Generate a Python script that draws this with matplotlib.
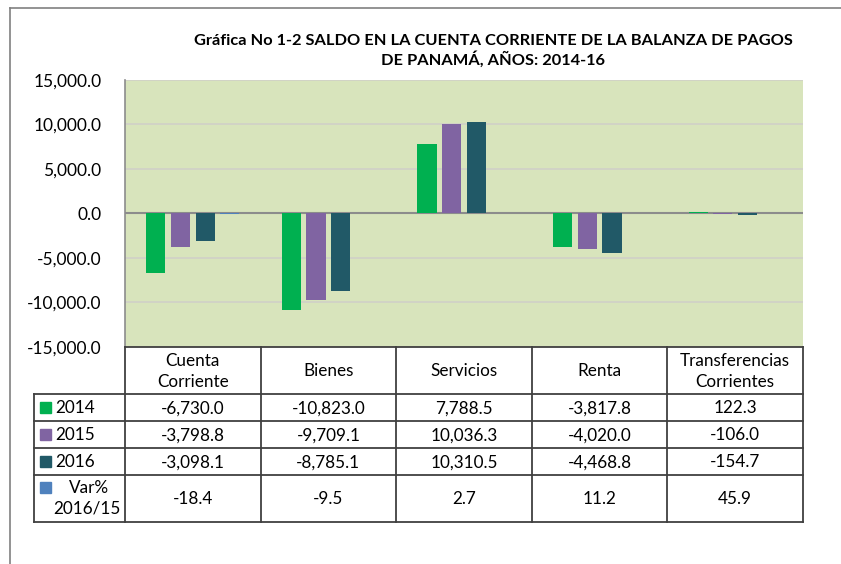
import numpy as np
import matplotlib.pyplot as plt
from matplotlib.lines import Line2D
from matplotlib.patches import Rectangle

# Datos del cuadro
categorias = ["Cuenta\nCorriente", "Bienes", "Servicios", "Renta", "Transferencias\nCorrientes"]
series = ["2014", "2015", "2016", "Var%\n2016/15"]
v2014 = [-6730.0, -10823.0, 7788.5, -3817.8, 122.3]
v2015 = [-3798.8, -9709.1, 10036.3, -4020.0, -106.0]
v2016 = [-3098.1, -8785.1, 10310.5, -4468.8, -154.7]
var_pct = [-18.4, -9.5, 2.7, 11.2, 45.9]
colores = ["#00B050", "#8064A2", "#215967", "#4F81BD"]

valores = [v2014, v2015, v2016, var_pct]
textos = [
    ["-6,730.0", "-10,823.0", "7,788.5", "-3,817.8", "122.3"],
    ["-3,798.8", "-9,709.1", "10,036.3", "-4,020.0", "-106.0"],
    ["-3,098.1", "-8,785.1", "10,310.5", "-4,468.8", "-154.7"],
    ["-18.4", "-9.5", "2.7", "11.2", "45.9"],
]

plt.rcParams['font.family'] = ['Lato', 'DejaVu Sans']

W, H = 841, 564
fig = plt.figure(figsize=(W / 100, H / 100), dpi=100)

def px(x0, y0, x1, y1):
    # caja en pixeles -> coordenadas de figura
    return [x0 / W, 1 - y1 / H, (x1 - x0) / W, (y1 - y0) / H]

# Marco exterior
fig.add_artist(Line2D([10 / W, 10 / W], [0, 1 - 8 / H], color="#808080", lw=1.2))
fig.add_artist(Line2D([10 / W, 1], [1 - 8 / H, 1 - 8 / H], color="#808080", lw=1.2))

# Grafica
ax = fig.add_axes(px(125, 80, 803, 346.7))
ax.set_facecolor("#D8E4BC")
x = np.arange(len(categorias))
paso = 0.182
ancho = 0.142
for i, (vals, c) in enumerate(zip(valores, colores)):
    ax.bar(x + (i - 1.5) * paso, vals, ancho, color=c, zorder=3)

ax.set_xlim(-0.5, 4.5)
ax.set_ylim(-15000, 15000)
ax.set_yticks(np.arange(-15000, 15001, 5000))
ax.set_yticklabels([f"{v:,.1f}" for v in np.arange(-15000, 15001, 5000)])
ax.tick_params(axis="y", length=0, pad=17, labelsize=12.5)
ax.set_xticks([])
ax.grid(axis="y", color="#D0D0C8", lw=1.2, zorder=0)
ax.axhline(0, color="#8C8C8C", lw=1.5, zorder=2)
for s in ["top", "right", "bottom"]:
    ax.spines[s].set_visible(False)
ax.spines["left"].set_color("#8C8C8C")
ax.spines["left"].set_linewidth(1.2)

fig.text(493 / W, 1 - 51 / H, "Gráfica No 1-2 SALDO EN LA CUENTA CORRIENTE DE LA BALANZA DE PAGOS\nDE PANAMÁ, AÑOS: 2014-16",
         ha="center", va="center", fontsize=11.8, fontweight="bold", linespacing=1.25)

# Tabla de datos
tab = fig.add_axes(px(33.7, 346.7, 803, 522.3))
izq = -0.5 - 91.3 / 135.6
tab.set_xlim(izq, 4.5)
tab.set_ylim(522.3, 346.7)
tab.axis("off")

filas = [346.7, 394.0, 420.7, 447.7, 474.7, 522.3]
col_line = "#404040"
for y in filas:
    x0 = -0.5 if y == filas[0] else izq
    tab.plot([x0, 4.5], [y, y], color=col_line, lw=1.3, clip_on=False)
tab.plot([izq, izq], [filas[1], filas[-1]], color=col_line, lw=1.3, clip_on=False)
for k in range(6):
    tab.plot([k - 0.5, k - 0.5], [filas[0], filas[-1]], color=col_line, lw=1.3, clip_on=False)

for k, cat in enumerate(categorias):
    tab.text(k, (filas[0] + filas[1]) / 2 + 1, cat, ha="center", va="center", fontsize=12.3, linespacing=1.35)

for r in range(4):
    yc = (filas[r + 1] + filas[r + 2]) / 2
    for k in range(5):
        tab.text(k, yc + 1, textos[r][k], ha="center", va="center", fontsize=12.3)

# etiquetas de las filas con su color
for r, (nombre, c) in enumerate(zip(series, colores)):
    yc = (filas[r + 1] + filas[r + 2]) / 2
    if r < 3:
        fig.patches.append(Rectangle((40 / W, 1 - (yc + 5.5) / H), 11 / W, 11 / H, color=c, transform=fig.transFigure))
        fig.text(55 / W, 1 - (yc + 1) / H, nombre, ha="left", va="center", fontsize=12.3)
    else:
        fig.patches.append(Rectangle((40 / W, 1 - (487.7 + 5.5) / H), 11 / W, 11 / H, color=c, transform=fig.transFigure))
        fig.text(89 / W, 1 - 488 / H, "Var%", ha="center", va="center", fontsize=12.3)
        fig.text(87 / W, 1 - 509 / H, "2016/15", ha="center", va="center", fontsize=12.3)

fig.savefig("out.png", dpi=100)
